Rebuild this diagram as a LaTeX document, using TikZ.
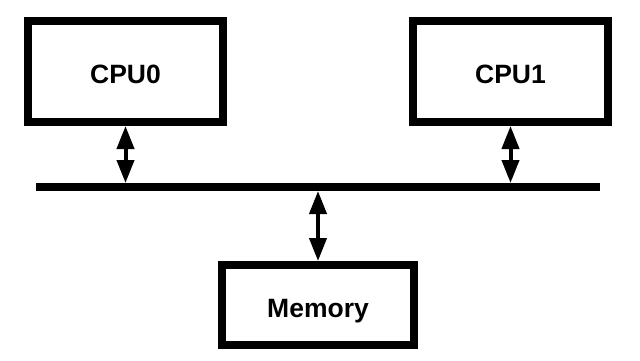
\documentclass[tikz,border=0pt]{standalone}
\usepackage{fontspec}
\setmainfont{Liberation Sans}
\usetikzlibrary{arrows.meta}
\tikzset{
  unitbox/.style={draw=black, line width=8pt, fill=white, inner sep=0pt,
    font=\fontsize{26.5}{30}\selectfont\bfseries, text height=24pt, text depth=0pt},
  buslink/.style={line width=4pt, {Triangle[width=17pt,length=23pt]}-{Triangle[width=17pt,length=23pt]}},
  busline/.style={line width=8pt}
}
\begin{document}
\begin{tikzpicture}[x=1pt,y=-1pt]
\useasboundingbox (0,0) rectangle (640,360);
\node[unitbox, minimum width=195pt, minimum height=101pt] (cpu0) at (125.5,71.5) {CPU0};
\node[unitbox, minimum width=195pt, minimum height=101pt] (cpu1) at (510.5,71.5) {CPU1};
\node[unitbox, minimum width=192pt, minimum height=80pt] (mem) at (318,305) {Memory};
\coordinate (busL) at (36,187);
\coordinate (busR) at (600,187);
\draw[busline] (busL) -- (busR);
\coordinate (t0) at (cpu0.south |- 0,183);
\coordinate (t1) at (cpu1.south |- 0,183);
\coordinate (tm) at (mem.north |- 0,191);
\draw[buslink] (cpu0.south) -- (t0);
\draw[buslink] (cpu1.south) -- (t1);
\draw[buslink] (tm) -- (mem.north);
\end{tikzpicture}
\end{document}
